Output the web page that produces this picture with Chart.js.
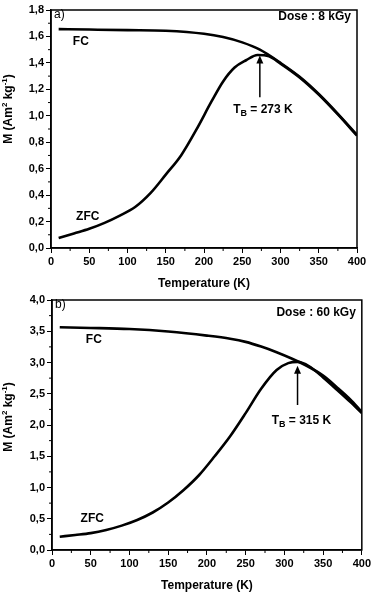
<!DOCTYPE html>
<html>
<head>
<meta charset="utf-8">
<script src="https://cdn.jsdelivr.net/npm/chart.js@4.4.0/dist/chart.umd.min.js"></script>
<style>
html, body { margin: 0; padding: 0; background: #fff; }
.panel { position: absolute; left: 0; width: 373px; }
</style>
</head>
<body>
<div class="panel" style="top:0;height:291px"><canvas id="chartA"></canvas></div>
<div class="panel" style="top:290px;height:303px"><canvas id="chartB"></canvas></div>
<script>
// panel a) dose 8 kGy
const tempFcA = [10, 50, 100, 150, 200, 225, 250, 273, 300, 325, 350, 375, 400];
const magFcA = [1.655, 1.652, 1.648, 1.643, 1.62, 1.595, 1.555, 1.50, 1.40, 1.295, 1.165, 1.015, 0.855];
const tempZfcA = [10, 30, 50, 70, 90, 110, 130, 150, 170, 190, 210, 225, 240, 255, 270, 285, 300, 325, 350, 375, 400];
const magZfcA = [0.075, 0.11, 0.145, 0.19, 0.245, 0.31, 0.415, 0.555, 0.70, 0.895, 1.11, 1.26, 1.365, 1.42, 1.46, 1.45, 1.395, 1.29, 1.16, 1.01, 0.85];

// panel b) dose 60 kGy
const tempFcB = [10, 50, 100, 150, 200, 230, 250, 270, 290, 310, 330, 350, 370, 385, 400];
const magFcB = [3.563, 3.553, 3.535, 3.495, 3.43, 3.38, 3.33, 3.255, 3.165, 3.06, 2.94, 2.79, 2.58, 2.41, 2.21];
const tempZfcB = [10, 30, 50, 70, 90, 110, 130, 150, 170, 190, 210, 230, 250, 270, 290, 305, 317, 332, 350, 370, 385, 400];
const magZfcB = [0.213, 0.24, 0.27, 0.32, 0.39, 0.48, 0.60, 0.76, 0.96, 1.2, 1.5, 1.82, 2.19, 2.58, 2.88, 2.99, 3.01, 2.94, 2.76, 2.54, 2.37, 2.19];

const FONT = "'Liberation Sans', Arial, sans-serif";

function pts(xs, ys) {
  return xs.map((x, i) => ({ x: x, y: ys[i] }));
}

// draws "T" + subscript + rest, or superscripts, piece by piece
function drawPieces(c, pieces, x, y) {
  let w = 0;
  pieces.forEach(p => {
    c.font = "bold " + p.size + "px " + FONT;
    w += c.measureText(p.t).width;
  });
  let sx = x - w / 2;
  c.textAlign = "left";
  pieces.forEach(p => {
    c.font = "bold " + p.size + "px " + FONT;
    c.fillText(p.t, sx, y + (p.dy || 0));
    sx += c.measureText(p.t).width;
  });
}

// frame, minor ticks, y title, text labels and the T_B arrow
const notesPlugin = {
  id: "notes",
  afterDraw(chart, args, o) {
    const c = chart.ctx, a = chart.chartArea;
    const xs = chart.scales.x, ys = chart.scales.y;
    c.save();
    c.strokeStyle = "#000";
    c.lineWidth = 1.5;
    c.strokeRect(a.left, a.top, a.right - a.left, a.bottom - a.top);

    // minor ticks
    c.lineWidth = 1;
    c.beginPath();
    for (let v = o.xStep / 2; v < 400; v += o.xStep) {
      const px = xs.getPixelForValue(v);
      c.moveTo(px, a.bottom); c.lineTo(px, a.bottom + 3);
    }
    for (let v = o.yStep / 2; v < o.yMax; v += o.yStep) {
      const py = ys.getPixelForValue(v);
      c.moveTo(a.left, py); c.lineTo(a.left - 3, py);
    }
    c.stroke();

    c.fillStyle = "#000";
    c.textBaseline = "middle";

    // y axis title, rotated
    c.save();
    c.translate(9, (a.top + a.bottom) / 2 + o.titleDy);
    c.rotate(-Math.PI / 2);
    drawPieces(c, [
      { t: "M (Am", size: 12 },
      { t: "2", size: 8, dy: -4 },
      { t: " kg", size: 12 },
      { t: "-1", size: 8, dy: -4 },
      { t: ")", size: 12 }
    ], 0, 0);
    c.restore();

    c.font = "12px " + FONT;
    c.textAlign = "left";
    c.fillText(o.panel, a.left + 3, a.top + 5);
    c.font = "bold 12px " + FONT;
    c.textAlign = "right";
    c.fillText(o.dose, a.right - 6, a.top + o.doseDy);

    c.textAlign = "center";
    c.fillText("FC", xs.getPixelForValue(o.fc[0]), ys.getPixelForValue(o.fc[1]));
    c.fillText("ZFC", xs.getPixelForValue(o.zfc[0]), ys.getPixelForValue(o.zfc[1]));

    // arrow
    const ax = xs.getPixelForValue(o.tb);
    const y0 = ys.getPixelForValue(o.arrow[0]);
    const y1 = ys.getPixelForValue(o.arrow[1]);
    c.lineWidth = 1.5;
    c.beginPath();
    c.moveTo(ax, y0); c.lineTo(ax, y1 + 5);
    c.stroke();
    c.beginPath();
    c.moveTo(ax, y1); c.lineTo(ax - 3.5, y1 + 8); c.lineTo(ax + 3.5, y1 + 8);
    c.closePath(); c.fill();

    // T_B label
    drawPieces(c, [
      { t: "T", size: 12 },
      { t: "B", size: 9, dy: 4 },
      { t: " = " + o.tbText + " K", size: 12 }
    ], xs.getPixelForValue(o.tbLabel[0]), ys.getPixelForValue(o.tbLabel[1]));
    c.restore();
  }
};

function makeChart(id, fcX, fcY, zfcX, zfcY, yMax, yStep, left, right, xHeight, notes) {
  const line = {
    borderColor: "#000",
    borderWidth: 2.6,
    pointRadius: 0,
    fill: false,
    cubicInterpolationMode: "monotone"
  };
  return new Chart(document.getElementById(id), {
    type: "line",
    data: {
      datasets: [
        Object.assign({ label: "FC", data: pts(fcX, fcY) }, line),
        Object.assign({ label: "ZFC", data: pts(zfcX, zfcY) }, line)
      ]
    },
    options: {
      responsive: true,
      maintainAspectRatio: false,
      animation: false,
      layout: { padding: { top: 10, right: right, left: 0, bottom: 0 } },
      plugins: {
        legend: { display: false },
        tooltip: { enabled: false },
        notes: Object.assign({ xStep: 50, yStep: yStep, yMax: yMax }, notes)
      },
      scales: {
        x: {
          type: "linear",
          min: 0,
          max: 400,
          afterFit: s => { s.height = xHeight; },
          border: { color: "#000", width: 1.5 },
          grid: { drawOnChartArea: false, tickLength: 5, tickColor: "#000", tickWidth: 1 },
          ticks: {
            stepSize: 50,
            padding: 2,
            color: "#000",
            maxRotation: 0,
            font: { family: FONT, size: 11, weight: "bold" }
          },
          title: {
            display: true,
            text: "Temperature (K)",
            color: "#000",
            padding: { top: 4, bottom: 0 },
            font: { family: FONT, size: 12, weight: "bold" }
          }
        },
        y: {
          min: 0,
          max: yMax,
          afterFit: s => { s.width = left; },
          border: { color: "#000", width: 1.5 },
          grid: { drawOnChartArea: false, tickLength: 5, tickColor: "#000", tickWidth: 1 },
          ticks: {
            stepSize: yStep,
            padding: 2,
            color: "#000",
            font: { family: FONT, size: 11, weight: "bold" },
            callback: v => v.toFixed(1).replace(".", ",")
          }
        }
      }
    },
    plugins: [notesPlugin]
  });
}

makeChart("chartA", tempFcA, magFcA, tempZfcA, magZfcA, 1.8, 0.2, 51, 16, 43, {
  panel: "a)", dose: "Dose : 8 kGy", doseDy: 7, titleDy: -20,
  fc: [39, 1.56], zfc: [48, 0.24],
  tb: 273, arrow: [1.14, 1.455], tbLabel: [277, 1.045], tbText: "273"
});
makeChart("chartB", tempFcB, magFcB, tempZfcB, magZfcB, 4.0, 0.5, 52, 10, 43, {
  panel: "b)", dose: "Dose : 60 kGy", doseDy: 13, titleDy: -8,
  fc: [54, 3.36], zfc: [52, 0.5],
  tb: 317, arrow: [2.32, 2.95], tbLabel: [322, 2.07], tbText: "315"
});
</script>
</body>
</html>
